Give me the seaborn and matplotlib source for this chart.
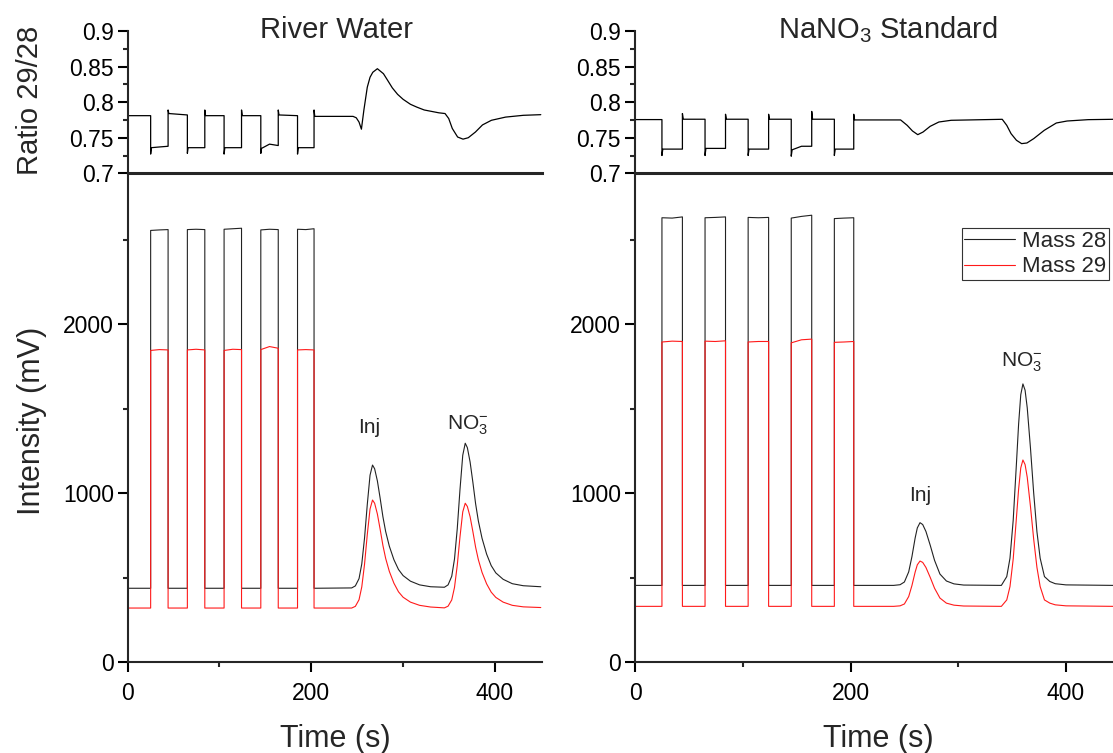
import pandas as pd
import seaborn as sns
import matplotlib.pyplot as plt

# pulse timing (s), same for both runs
pulse_on = [25, 65, 105, 145, 185]
pulse_off = [44, 84, 124, 164, 203]

# ---- River Water: intensity (mV) ----
rw_m28_base = 438
rw_m29_base = 321
rw_m28_tops = [(2555, 2558, 2560), (2560, 2562, 2560), (2562, 2565, 2568), (2558, 2562, 2560), (2562, 2560, 2565)]
rw_m29_tops = [(1845, 1850, 1848), (1848, 1852, 1848), (1845, 1852, 1850), (1850, 1868, 1858), (1848, 1850, 1848)]
rw_tail_t = [244, 248, 252, 255, 258, 261, 264, 266.7, 269, 272, 275, 278, 281, 285, 290, 295, 300, 308, 318, 330,
             345, 349, 353, 356, 359, 362, 365, 367.7, 370, 373, 376, 379, 382, 386, 391, 396, 401, 409, 419, 431, 450]
rw_m28_tail = [440, 452, 495, 582, 735, 934, 1107, 1167, 1145, 1073, 971, 862, 774, 687, 607, 549, 513, 480, 458, 447,
               444, 458, 509, 611, 790, 1023, 1225, 1296, 1270, 1185, 1066, 938, 836, 734, 640, 572, 529, 491, 465, 453, 447]
rw_m29_tail = [321, 331, 370, 446, 580, 756, 907, 960, 941, 877, 787, 692, 615, 538, 468, 417, 385, 356, 337, 327,
               322, 332, 369, 443, 573, 743, 890, 941, 922, 861, 774, 681, 607, 532, 464, 415, 384, 356, 337, 328, 324]

# ---- NaNO3 Standard: intensity (mV) ----
st_m28_base = 455
st_m29_base = 331
st_m28_tops = [(2630, 2628, 2635), (2630, 2632, 2635), (2632, 2630, 2632), (2628, 2638, 2645), (2625, 2628, 2630)]
st_m29_tops = [(1895, 1900, 1898), (1900, 1898, 1902), (1895, 1898, 1898), (1890, 1908, 1912), (1893, 1895, 1898)]
st_tail_t = [240, 246, 250, 254, 257, 260, 262, 264.5, 267, 270, 274, 278, 283, 289, 296, 305, 340,
             345, 348, 351, 354, 356, 358, 360, 362, 364, 367, 370, 373, 376, 380, 385, 390, 400, 444]
st_m28_tail = [455, 459, 475, 535, 625, 736, 795, 826, 815, 774, 692, 603, 522, 481, 464, 457, 455,
               507, 616, 842, 1178, 1409, 1583, 1647, 1610, 1506, 1268, 1001, 773, 616, 507, 478, 465, 458, 455]
st_m29_tail = [331, 334, 345, 389, 454, 534, 577, 599, 591, 561, 502, 438, 380, 350, 338, 333, 331,
               369, 448, 612, 857, 1024, 1150, 1197, 1170, 1095, 922, 728, 562, 448, 369, 350, 340, 334, 331]

# ---- ratio 29/28 ----
rw_r_start = 0.781
rw_r_spike_lo = [0.727, 0.728, 0.727, 0.728, 0.727]
rw_r_lo = [(0.736, 0.737, 0.738), (0.736, 0.736, 0.736), (0.736, 0.736, 0.736), (0.735, 0.741, 0.739), (0.736, 0.736, 0.736)]
rw_r_spike_hi = [0.789, 0.789, 0.789, 0.789, 0.789]
rw_r_hi = [(0.784, 0.782), (0.781, 0.781), (0.781, 0.781), (0.782, 0.781), (0.780, 0.780)]
rw_r_tail_t = [245.5, 249, 252, 254.6, 257.3, 261, 264, 267, 272, 278.6, 283, 288.3, 294, 300, 308, 315, 323, 331,
               339, 345.7, 349.7, 353.6, 359.4, 365.3, 371, 378.8, 386.5, 396.2, 411.7, 431, 450]
rw_r_tail_v = [0.780, 0.778, 0.772, 0.762, 0.789, 0.821, 0.835, 0.842, 0.847, 0.840, 0.831, 0.820, 0.811, 0.804,
               0.797, 0.793, 0.789, 0.787, 0.785, 0.784, 0.777, 0.763, 0.751, 0.748, 0.750, 0.758, 0.768, 0.7745,
               0.779, 0.7815, 0.7824]

st_r_start = 0.7755
st_r_spike_lo = [0.725, 0.725, 0.725, 0.724, 0.725]
st_r_lo = [(0.734, 0.734, 0.734), (0.735, 0.735, 0.735), (0.734, 0.734, 0.734), (0.733, 0.738, 0.738), (0.734, 0.734, 0.734)]
st_r_spike_hi = [0.784, 0.783, 0.783, 0.787, 0.783]
st_r_hi = [(0.776, 0.776), (0.776, 0.776), (0.776, 0.776), (0.776, 0.776), (0.775, 0.775)]
st_r_tail_t = [246.5, 252.6, 257.5, 262.4, 267.3, 273.9, 282, 293.4, 340.8, 345, 349, 354, 358.8, 363.7, 370,
               379.8, 391, 401, 420.6, 444]
st_r_tail_v = [0.775, 0.7674, 0.7595, 0.7543, 0.758, 0.766, 0.7721, 0.7745, 0.7759, 0.7674, 0.7557, 0.7464,
               0.7417, 0.7426, 0.7487, 0.7604, 0.7707, 0.7735, 0.7754, 0.7759]


def pulse_trace(base, tops, tail_t, tail_v):
    t, v = [0.0], [base]
    for a, b, top in zip(pulse_on, pulse_off, tops):
        t += [a, a, (a + b) / 2, b, b]
        v += [base, top[0], top[1], top[2], base]
    return pd.DataFrame({'t': t + list(tail_t), 'v': v + list(tail_v)})


def ratio_trace(start, spike_lo, lo, spike_hi, hi, tail_t, tail_v):
    t, v = [0.0], [start]
    prev = start
    for i, (a, b) in enumerate(zip(pulse_on, pulse_off)):
        t += [a, a, a + 0.8, (a + b) / 2, b, b, b + 0.8]
        v += [prev, spike_lo[i], lo[i][0], lo[i][1], lo[i][2], spike_hi[i], hi[i][0]]
        prev = hi[i][1]
    return pd.DataFrame({'t': t + list(tail_t), 'v': v + list(tail_v)})


sns.set_style('ticks')
plt.rcParams['font.family'] = ['Liberation Sans', 'DejaVu Sans']
plt.rcParams['mathtext.fontset'] = 'custom'
plt.rcParams['mathtext.rm'] = 'Liberation Sans'
plt.rcParams['mathtext.it'] = 'Liberation Sans:italic'

W, H = 1113, 753
fig = plt.figure(figsize=(W / 100, H / 100), dpi=100)


def fx(px):
    return px / W


def fy(py):
    return 1 - py / H


ratio_top, split, bottom = 31, 173.3, 662.3
panels = [
    dict(x0=127.7, x1=541.7, xmax=451, title='River Water', title_x=337,
         m28=pulse_trace(rw_m28_base, rw_m28_tops, rw_tail_t, rw_m28_tail),
         m29=pulse_trace(rw_m29_base, rw_m29_tops, rw_tail_t, rw_m29_tail),
         ratio=ratio_trace(rw_r_start, rw_r_spike_lo, rw_r_lo, rw_r_spike_hi, rw_r_hi, rw_r_tail_t, rw_r_tail_v),
         inj=(263, 1392), no3=(370, 1405), time_x=335),
    dict(x0=635, x1=1113, xmax=443.6, title=r'NaNO$_3$ Standard', title_x=888,
         m28=pulse_trace(st_m28_base, st_m28_tops, st_tail_t, st_m28_tail),
         m29=pulse_trace(st_m29_base, st_m29_tops, st_tail_t, st_m29_tail),
         ratio=ratio_trace(st_r_start, st_r_spike_lo, st_r_lo, st_r_spike_hi, st_r_hi, st_r_tail_t, st_r_tail_v),
         inj=(265, 984), no3=(359, 1777), time_x=878),
]

tick_fs = 16.5
for k, p in enumerate(panels):
    ax_r = fig.add_axes([fx(p['x0']), fy(split), fx(p['x1'] - p['x0']), (split - ratio_top) / H])
    ax = fig.add_axes([fx(p['x0']), fy(bottom), fx(p['x1'] - p['x0']), (bottom - split) / H])

    sns.lineplot(data=p['ratio'], x='t', y='v', ax=ax_r, estimator=None, sort=False,
                 color='black', lw=0.9)
    sns.lineplot(data=p['m28'], x='t', y='v', ax=ax, estimator=None, sort=False,
                 color='#222222', lw=0.8, label='Mass 28' if k == 1 else None, legend=False)
    sns.lineplot(data=p['m29'], x='t', y='v', ax=ax, estimator=None, sort=False,
                 color='#ff1a1a', lw=0.8, label='Mass 29' if k == 1 else None, legend=False)

    ax_r.set_xlim(0, p['xmax'])
    ax_r.set_ylim(0.7, 0.9)
    ax_r.set_yticks([0.7, 0.75, 0.8, 0.85, 0.9], labels=['0.7', '0.75', '0.8', '0.85', '0.9'])
    ax_r.set_yticks([0.725, 0.775, 0.825, 0.875], minor=True)
    ax_r.set_xticks([])
    ax_r.spines[['top', 'right']].set_visible(False)
    ax_r.spines['left'].set_linewidth(1.5)
    ax_r.spines['bottom'].set_linewidth(2.2)
    ax_r.set_xlabel('')
    ax_r.set_ylabel('')

    ax.set_xlim(0, p['xmax'])
    ax.set_ylim(0, 2893)
    ax.set_xticks([0, 200, 400])
    ax.set_xticks([100, 300], minor=True)
    ax.set_yticks([0, 1000, 2000])
    ax.set_yticks([500, 1500, 2500], minor=True)
    ax.spines[['top', 'right']].set_visible(False)
    for s in ['left', 'bottom']:
        ax.spines[s].set_linewidth(1.5)
    ax.set_xlabel('')
    ax.set_ylabel('')

    for a in (ax, ax_r):
        a.tick_params(which='major', direction='out', length=7, width=1.5, labelsize=tick_fs, pad=3,
                      colors='black')
        a.tick_params(which='minor', direction='out', length=3.5, width=1.5)
        a.patch.set_alpha(0)
    ax.tick_params(axis='x', which='major', pad=7)

    ax.text(*p['inj'], 'Inj', ha='center', va='center', fontsize=15)
    ax.text(*p['no3'], r'NO$_3^{-}$', ha='center', va='center', fontsize=15)

    fig.text(fx(p['title_x']), fy(30), p['title'], ha='center', va='center', fontsize=21)
    fig.text(fx(p['time_x']), fy(739), 'Time (s)', ha='center', va='center', fontsize=22)

    if k == 1:
        ax.legend(loc='lower right', bbox_to_anchor=(fx(1109), fy(280)), bbox_transform=fig.transFigure,
                  borderaxespad=0, fontsize=16, frameon=True, fancybox=False, edgecolor='#333333',
                  framealpha=1, labelspacing=0.2, borderpad=0.12, handlelength=2.3,
                  handletextpad=0.3)
        ax.get_legend().get_frame().set_linewidth(0.8)

fig.text(fx(30), fy(100), 'Ratio 29/28', rotation=90, ha='center', va='center', fontsize=21)
fig.text(fx(32), fy(421), 'Intensity (mV)', rotation=90, ha='center', va='center', fontsize=22)

fig.savefig('out.png', dpi=100)
